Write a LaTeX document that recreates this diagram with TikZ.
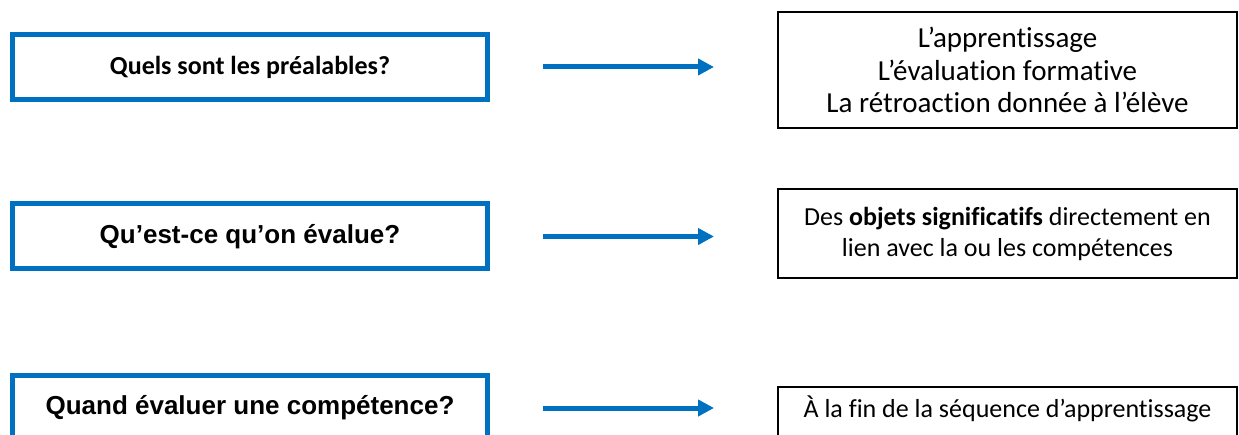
\documentclass[tikz,border=0pt]{standalone}
\usepackage{fontspec}
\setmainfont{Carlito}[Ligatures=NoCommon]
\newfontfamily\arialfont{Liberation Sans}
\usetikzlibrary{arrows.meta}
\definecolor{qblue}{HTML}{0070C0}

\begin{document}
\begin{tikzpicture}[x=1pt,y=-1pt,>={Triangle[length=16pt,width=16pt]},
                    semithick]
\tikzstyle{question}=[draw=qblue,line width=5pt,minimum width=475pt,minimum height=65pt,
                      inner sep=0pt,font=\bfseries\fontsize{26}{30}\selectfont]
\tikzstyle{arialq}=[font=\arialfont\bfseries\fontsize{26}{30}\selectfont]
\tikzstyle{answer}=[draw=black,line width=2pt,minimum width=459pt,align=center,
                    inner sep=0pt,font=\fontsize{26}{31}\selectfont]
\tikzstyle{link}=[->,draw=qblue,line width=5pt,shorten <=53pt,shorten >=63pt]
  \clip (0,0) rectangle (1239,435);

\node [question] (q1) at (250,67) {Quels sont les préalables?};
\node [question,arialq] (q2) at (250,236.5) {Qu’est-ce qu’on évalue?};
\node [question,arialq] (q3) at (250,408) {Quand évaluer une compétence?};

\node [answer,minimum height=116pt,font=\fontsize{29}{32.5}\selectfont] (r1) at (1007.5,70)
  {L’apprentissage\\L’évaluation formative\\La rétroaction donnée à l’élève};
\node [answer,minimum height=89pt] (r2) at (1007.5,233.5)
  {Des \textbf{objets significatifs} directement en\\lien avec la ou les compétences};
\node [answer,anchor=north,inner ysep=11pt,text height=19pt,text depth=60pt] (r3) at (1007.5,386)
  {À la fin de la séquence d’apprentissage};

\path (q1.east) edge [link] (q1.east -| r1.west);
\path (q2.east) edge [link] (q2.east -| r2.west);
\path (q3.east) edge [link] (q3.east -| r3.west);

	\end{tikzpicture}
\end{document}
